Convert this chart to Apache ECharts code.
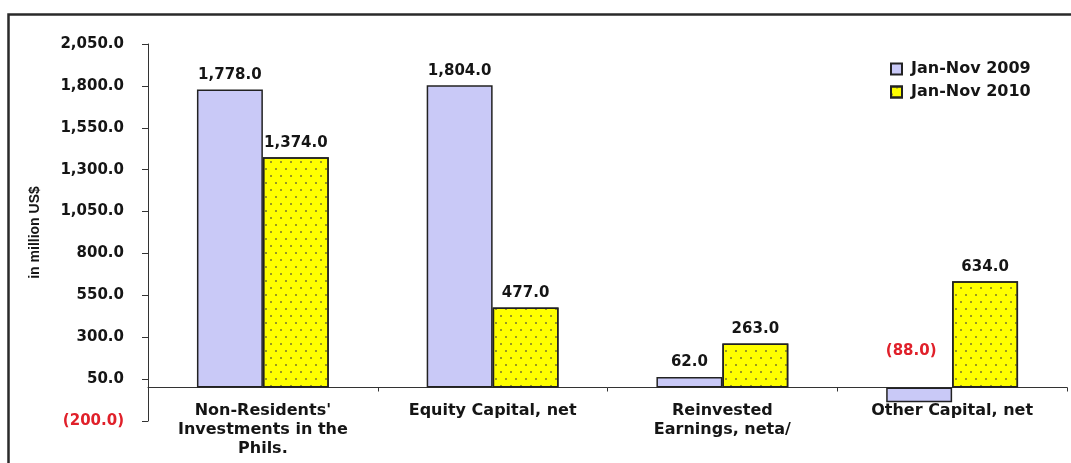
<!DOCTYPE html>
<html>
<head>
<meta charset="utf-8">
<script src="https://cdn.jsdelivr.net/npm/echarts@6/dist/echarts.min.js"></script>
<style>
  html, body { margin: 0; padding: 0; background: #fff; }
  #main { width: 1071px; height: 463px; }
</style>
</head>
<body>
<div id="main"></div>
<script>
  // chart data
  const categories = ["Non-Residents'\nInvestments in the\nPhils.", 'Equity Capital, net', 'Reinvested\nEarnings, neta/', 'Other Capital, net'];
  const values2009 = [1778, 1804, 62, -88];
  const values2010 = [1374, 477, 263, 634];
  const seriesNames = ['Jan-Nov 2009', 'Jan-Nov 2010'];
  const yTicks = [-200, 50, 300, 550, 800, 1050, 1300, 1550, 1800, 2050];

  const font = 'DejaVu Sans, Verdana, sans-serif';

  function fmt(v) {
    const s = Math.abs(v).toLocaleString('en-US', { minimumFractionDigits: 1, maximumFractionDigits: 1 });
    return v < 0 ? '(' + s + ')' : s;
  }

  const chart = echarts.init(document.getElementById('main'));

  const barLabel = {
    show: true,
    position: 'top',
    distance: 7,
    fontFamily: font,
    fontWeight: 'bold',
    fontSize: 15,
    color: '#151515',
    formatter: p => fmt(p.value)
  };

  const option = {
    backgroundColor: '#fff',
    animation: false,
    grid: { left: 148, right: 4, top: 44, bottom: 42, containLabel: false, outerBoundsMode: 'none' },
    legend: {
      orient: 'vertical',
      left: 885,
      top: 56,
      itemWidth: 11,
      itemHeight: 11,
      itemGap: 7,
      icon: 'rect',
      textStyle: { fontFamily: font, fontWeight: 'bold', fontSize: 16, color: '#151515', padding: [0, 0, 0, 4] },
      data: seriesNames
    },
    xAxis: {
      type: 'category',
      data: categories,
      axisLine: { onZero: true, lineStyle: { color: '#333', width: 1 } },
      axisTick: { show: true, length: 4, inside: false, lineStyle: { color: '#333' } },
      axisLabel: {
        fontFamily: font,
        fontWeight: 'bold',
        fontSize: 16,
        color: '#151515',
        lineHeight: 19,
        margin: -20,
        interval: 0
      }
    },
    yAxis: {
      type: 'value',
      min: -200,
      max: 2050,
      name: 'in million US$',
      nameLocation: 'middle',
      nameGap: 106,
      nameRotate: 90,
      nameTextStyle: { fontFamily: 'Liberation Sans, Arial, sans-serif', fontWeight: 'bold', fontSize: 14, color: '#151515' },
      splitLine: { show: false },
      axisLine: { show: true, lineStyle: { color: '#333' } },
      axisTick: { show: true, length: 6, customValues: yTicks, lineStyle: { color: '#333' } },
      axisLabel: {
        customValues: yTicks,
        margin: 24,
        fontFamily: font,
        fontWeight: 'bold',
        fontSize: 15,
        formatter: v => v < 0 ? '{neg|' + fmt(v) + '}' : fmt(v),
        color: '#151515',
        rich: { neg: { color: '#e0202a', fontFamily: font, fontWeight: 'bold', fontSize: 15 } }
      }
    },
    graphic: [
      {
        type: 'rect',
        silent: true,
        z: 100,
        shape: { x: 8.5, y: 14.5, width: 1080, height: 470 },
        style: { fill: 'none', stroke: '#2a2a2a', lineWidth: 2.5 }
      }
    ],
    series: [
      {
        name: seriesNames[0],
        type: 'bar',
        barGap: 0,
        barCategoryGap: '42.6%',
        itemStyle: { color: '#c9c9f7', borderColor: '#222', borderWidth: 1.5 },
        label: barLabel,
        data: values2009.map(v => v < 0
          ? { value: v, label: { position: 'top', offset: [-8, -22], color: '#e0202a' } }
          : v)
      },
      {
        name: seriesNames[1],
        type: 'bar',
        itemStyle: {
          color: '#ffff00',
          borderColor: '#222',
          borderWidth: 1.5,
          decal: {
            symbol: 'rect',
            symbolSize: 1,
            color: 'rgba(100,100,50,0.65)',
            dashArrayX: [[1.5, 7.5], [0, 4.5, 1.5, 3]],
            dashArrayY: [1.5, 5],
            rotation: 0
          }
        },
        label: barLabel,
        data: values2010
      }
    ]
  };

  chart.setOption(option);
</script>
</body>
</html>
